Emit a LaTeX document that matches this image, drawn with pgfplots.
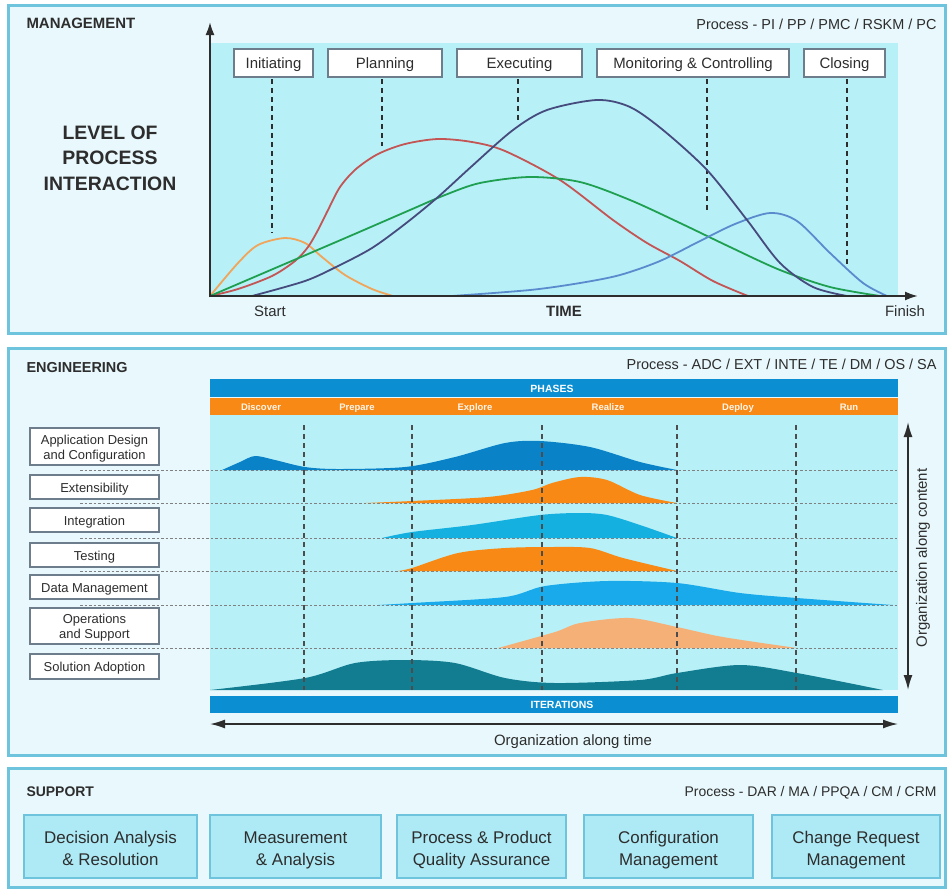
\documentclass[border=0pt]{standalone}
\usepackage{pgfplots}
\pgfplotsset{compat=1.18}
\usepackage{fontspec}
\setmainfont{Liberation Sans}
\usetikzlibrary{arrows.meta}

\definecolor{panelfill}{RGB}{232,248,252}
\definecolor{panelborder}{RGB}{110,196,220}
\definecolor{cyanarea}{RGB}{184,240,248}
\definecolor{boxborder}{RGB}{110,125,140}
\definecolor{txt}{RGB}{45,45,45}
\definecolor{cOrange}{RGB}{240,165,90}
\definecolor{cRed}{RGB}{195,85,85}
\definecolor{cNavy}{RGB}{70,75,125}
\definecolor{cGreen}{RGB}{30,160,80}
\definecolor{cBlue}{RGB}{90,140,205}
\definecolor{eADC}{RGB}{10,130,200}
\definecolor{eOrange}{RGB}{247,137,20}
\definecolor{eInteg}{RGB}{20,176,224}
\definecolor{eDM}{RGB}{25,170,235}
\definecolor{eOps}{RGB}{245,176,120}
\definecolor{eSol}{RGB}{18,125,145}
\definecolor{phaseblue}{RGB}{12,143,210}
\definecolor{supbox}{RGB}{174,234,245}

\newcommand\fs[1]{\fontsize{#1}{#1}\selectfont}

\begin{document}
\begin{tikzpicture}
\begin{scope}[x=1bp,y=-1bp,color=txt]
  \fill[white] (0,0) rectangle (947,889);
  % panels
  \draw[panelborder, line width=3bp, fill=panelfill] (8,5) rectangle (945,333);
  \draw[panelborder, line width=3bp, fill=panelfill] (8,348) rectangle (945,755);
  \draw[panelborder, line width=3bp, fill=panelfill] (8,768) rectangle (945,887);
  \fill[cyanarea] (210,43) rectangle (898,296);
  \fill[cyanarea] (210,415) rectangle (898,690);

  % management texts
  \node[anchor=base west, font=\bfseries\fs{15}] at (23,28) {MANAGEMENT};
  \node[anchor=base east, font=\fs{14.5}] at (940,29) {Process - PI / PP / PMC / RSKM / PC};
  \node[anchor=base, font=\bfseries\fs{19.5}] at (110,139) {LEVEL OF};
  \node[anchor=base, font=\bfseries\fs{19.5}] at (110,164) {PROCESS};
  \node[anchor=base, font=\bfseries\fs{19.5}] at (110,190) {INTERACTION};
  \node[anchor=base, font=\fs{15}] at (270,316) {Start};
  \node[anchor=base, font=\bfseries\fs{15}] at (564,316) {TIME};
  \node[anchor=base, font=\fs{15}] at (905,316) {Finish};

  % phase boxes
  \foreach \a/\b/\t in {234/313/Initiating, 328/442/Planning, 457/582/Executing,
                        597/789/Monitoring \& Controlling, 804/885/Closing}{
    \draw[boxborder, line width=1.2bp, fill=white] (\a,49) rectangle (\b,77);
    \node[anchor=base, font=\fs{15}] at ({(\a+\b)/2},68) {\t};
  }
  \foreach \x/\y in {272/233, 382/146, 518/122, 707/213, 847/265}
    \draw[txt, line width=1.2bp, dash pattern=on 5bp off 4bp] (\x,79) -- (\x,\y);

  % engineering texts and bars
  \node[anchor=base west, font=\bfseries\fs{14.5}] at (23,372) {ENGINEERING};
  \node[anchor=base east, font=\fs{14.5}] at (940,369) {Process - ADC / EXT / INTE / TE / DM / OS / SA};
  \fill[phaseblue] (210,379) rectangle (898,397);
  \fill[eOrange] (210,398) rectangle (898,415);
  \node[anchor=base, text=white, font=\bfseries\fs{10.5}] at (552,392) {PHASES};
  \foreach \x/\t in {261/Discover, 357/Prepare, 475/Explore, 608/Realize, 738/Deploy, 849/Run}
    \node[anchor=base, text=white!92!orange, font=\bfseries\fs{9.5}] at (\x,410) {\t};
  \fill[phaseblue] (210,696) rectangle (898,713);
  \node[anchor=base, text=white, font=\bfseries\fs{10.5}] at (562,708) {ITERATIONS};

  % dotted row guides
  \foreach \y in {470,503,538,571,605,648}
    \draw[gray, line width=0.9bp, dash pattern=on 2.5bp off 2bp] (80,\y) -- (898,\y);

  % row labels
  \draw[boxborder, line width=1.2bp, fill=white] (30,428) rectangle (159,465);
  \node[anchor=base, font=\fs{13}] at (94.5,444) {Application Design};
  \node[anchor=base, font=\fs{13}] at (94.5,459) {and Configuration};
  \foreach \a/\b/\yb/\t in {475/499/492/Extensibility, 508/532/525/Integration,
                           543/567/560/Testing, 575/599/592/Data Management,
                           654/679/671/Solution Adoption}{
    \draw[boxborder, line width=1.2bp, fill=white] (30,\a) rectangle (159,\b);
    \node[anchor=base, font=\fs{13}] at (94.5,\yb) {\t};
  }
  \draw[boxborder, line width=1.2bp, fill=white] (30,608) rectangle (159,644);
  \node[anchor=base, font=\fs{13}] at (94.5,623) {Operations};
  \node[anchor=base, font=\fs{13}] at (94.5,638) {and Support};

  % support
  \node[anchor=base west, font=\bfseries\fs{14}] at (23,796) {SUPPORT};
  \node[anchor=base east, font=\fs{14}] at (940,796) {Process - DAR / MA / PPQA / CM / CRM};
  \foreach \a/\b/\l/\m in {24/197/Decision Analysis/\& Resolution,
                          210/381/Measurement/\& Analysis,
                          397/566/Process \& Product/Quality Assurance,
                          584/753/Configuration/Management,
                          772/940/Change Request/Management}{
    \draw[panelborder, line width=1.5bp, fill=supbox] (\a,815) rectangle (\b,878);
    \node[anchor=base, font=\fs{17}] at ({(\a+\b)/2},843) {\l};
    \node[anchor=base, font=\fs{17}] at ({(\a+\b)/2},865) {\m};
  }
\end{scope}

% management curves
\begin{axis}[at={(210bp,-43bp)}, anchor=north west, scale only axis,
  width=690bp, height=253bp, xmin=210, xmax=900, ymin=43, ymax=296,
  y dir=reverse, axis lines=none, clip=false]
\addplot[cOrange, line width=1.8bp, smooth] coordinates {
  (210,296)(238,263)(258,245)(285,238)(305,243)(322,257)(345,275)(372,289)(393,296)};
\addplot[cRed, line width=1.8bp, smooth] coordinates {
  (210,296)(238,289)(272,276)(295,261)(308,247)(318,230)(328,210)(340,187)
  (356,169)(378,154)(405,144)(438,139)(472,142)(505,151)(560,180)(613,220)
  (647,243)(680,261)(713,281)(748,296)};
\addplot[cGreen, line width=1.8bp, smooth] coordinates {
  (210,296)(280,266)(350,236)(410,210)(445,195)(480,183)(530,177)(580,182)
  (630,200)(680,223)(730,247)(780,270)(830,287)(880,296)};
\addplot[cBlue, line width=1.8bp, smooth] coordinates {
  (452,296)(530,290)(580,283)(620,275)(660,261)(700,241)(735,224)(770,213)
  (797,221)(830,253)(863,283)(887,296)};
\addplot[cNavy, line width=1.8bp, smooth] coordinates {
  (252,296)(305,281)(338,266)(372,248)(405,224)(438,197)(472,166)(513,130)
  (547,110)(597,100)(630,107)(663,130)(707,170)(747,220)(780,263)(813,287)
  (847,296)};
\end{axis}

% engineering areas
\begin{axis}[at={(210bp,-415bp)}, anchor=north west, scale only axis,
  width=688bp, height=275bp, xmin=210, xmax=898, ymin=415, ymax=690,
  y dir=reverse, axis lines=none, clip=false]
\addplot[draw=none, fill=eADC, smooth] coordinates {
  (222,470)(240,462)(255,456)(275,460)(305,467)(338,469)(405,467)(455,457)
  (505,443)(540,441)(590,447)(640,462)(677,470)};
\addplot[draw=none, fill=eOrange, smooth] coordinates {
  (365,503)(412,501)(488,497)(532,490)(552,483)(580,477)(607,480)(640,495)
  (677,503)};
\addplot[draw=none, fill=eInteg, smooth] coordinates {
  (382,538)(412,532)(472,525)(540,515)(580,513)(607,515)(640,525)(677,538)};
\addplot[draw=none, fill=eOrange, smooth] coordinates {
  (398,571)(412,568)(458,553)(505,548)(550,547)(590,548)(623,558)(677,571)};
\addplot[draw=none, fill=eDM, smooth] coordinates {
  (378,605)(412,603)(505,597)(545,586)(607,581)(677,583)(740,593)(797,598)
  (893,605)};
\addplot[draw=none, fill=eOps, smooth] coordinates {
  (498,648)(555,632)(580,623)(630,618)(677,627)(723,637)(797,648)};
\addplot[draw=none, fill=eSol, smooth] coordinates {
  (210,690)(305,678)(355,663)(405,660)(455,663)(505,678)(555,683)(640,680)
  (677,673)(740,665)(797,673)(883,690)};
\end{axis}

\begin{scope}[x=1bp,y=-1bp]
  \foreach \x in {304,412,542,677,796}
    \draw[txt!85, line width=1.1bp, dash pattern=on 5bp off 4bp] (\x,425) -- (\x,690);
  \draw[txt, line width=2bp, -{Latex[length=13bp,width=9bp]}] (210,297) -- (210,22);
  \draw[txt, line width=2bp, -{Latex[length=13bp,width=9bp]}] (209,296) -- (918,296);
  \draw[txt, line width=1.6bp, {Latex[length=15bp,width=9bp]}-{Latex[length=15bp,width=9bp]}] (210,724) -- (898,724);
  \node[anchor=base, text=txt, font=\fs{15}] at (573,745) {Organization along time};
  \draw[txt, line width=1.6bp, {Latex[length=15bp,width=9bp]}-{Latex[length=15bp,width=9bp]}] (908,422) -- (908,690);
  \node[rotate=90, text=txt, font=\fs{15}] at (923,558) {Organization along content};
\end{scope}
\end{tikzpicture}
\end{document}
